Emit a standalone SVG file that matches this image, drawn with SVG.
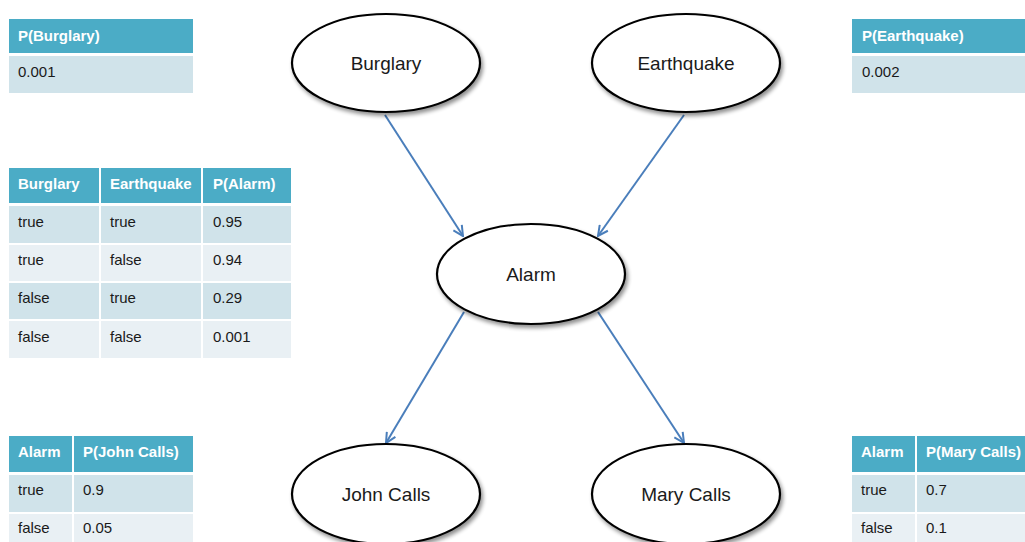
<svg xmlns="http://www.w3.org/2000/svg" width="1025" height="542" viewBox="0 0 1025 542">
  <style>
    .hd { fill: #4bacc6; }
    .r1 { fill: #d0e3ea; }
    .r2 { fill: #e9f0f4; }
    .ht { font-family: "Liberation Sans", Arial, sans-serif; font-size: 15px; font-weight: bold; fill: #ffffff; }
    .bt { font-family: "Liberation Sans", Arial, sans-serif; font-size: 15px; fill: #1a1a1a; }
    .node { fill: #ffffff; stroke: #000000; stroke-width: 2.2; filter: url(#shadow); }
    .lbl { font-family: "Liberation Sans", Arial, sans-serif; font-size: 19px; fill: #1a1a1a; text-anchor: middle; }
    .edge { stroke: #4a7ebb; stroke-width: 2; fill: none; marker-end: url(#arrow); }
  </style>
  <defs>
    <filter id="shadow" x="-20%" y="-20%" width="140%" height="150%">
      <feGaussianBlur in="SourceAlpha" stdDeviation="2"/>
      <feOffset dx="2" dy="3" result="b"/>
      <feComponentTransfer><feFuncA type="linear" slope="0.45"/></feComponentTransfer>
      <feMerge><feMergeNode/><feMergeNode in="SourceGraphic"/></feMerge>
    </filter>
    <marker id="arrow" viewBox="0 0 12 12" refX="11" refY="6" markerWidth="12" markerHeight="12" markerUnits="userSpaceOnUse" orient="auto">
      <path d="M1,1 L11,6 L1,11" fill="none" stroke="#4a7ebb" stroke-width="2"/>
    </marker>
  </defs>
  <rect width="1025" height="542" fill="#ffffff"/>

  <!-- P(Burglary) table -->
  <g id="table-burglary">
    <rect class="hd" x="9" y="19" width="184" height="34"/>
    <rect class="r1" x="9" y="56" width="184" height="37"/>
    <text class="ht" x="18" y="41">P(Burglary)</text>
    <text class="bt" x="18" y="77">0.001</text>
  </g>

  <!-- P(Earthquake) table -->
  <g id="table-earthquake">
    <rect class="hd" x="852" y="19" width="173" height="34"/>
    <rect class="r1" x="852" y="56" width="173" height="37"/>
    <text class="ht" x="862" y="41">P(Earthquake)</text>
    <text class="bt" x="862" y="77">0.002</text>
  </g>

  <!-- P(Alarm) table -->
  <g id="table-alarm">
    <rect class="hd" x="9" y="168" width="90" height="35"/>
    <rect class="hd" x="101" y="168" width="100" height="35"/>
    <rect class="hd" x="203" y="168" width="88" height="35"/>
    <rect class="r1" x="9" y="206" width="90" height="37"/>
    <rect class="r1" x="101" y="206" width="100" height="37"/>
    <rect class="r1" x="203" y="206" width="88" height="37"/>
    <rect class="r2" x="9" y="245" width="90" height="36"/>
    <rect class="r2" x="101" y="245" width="100" height="36"/>
    <rect class="r2" x="203" y="245" width="88" height="36"/>
    <rect class="r1" x="9" y="283" width="90" height="36"/>
    <rect class="r1" x="101" y="283" width="100" height="36"/>
    <rect class="r1" x="203" y="283" width="88" height="36"/>
    <rect class="r2" x="9" y="321" width="90" height="37"/>
    <rect class="r2" x="101" y="321" width="100" height="37"/>
    <rect class="r2" x="203" y="321" width="88" height="37"/>
    <text class="ht" x="18" y="189">Burglary</text>
    <text class="ht" x="110" y="189">Earthquake</text>
    <text class="ht" x="213" y="189">P(Alarm)</text>
    <text class="bt" x="18" y="227">true</text>
    <text class="bt" x="110" y="227">true</text>
    <text class="bt" x="213" y="227">0.95</text>
    <text class="bt" x="18" y="265">true</text>
    <text class="bt" x="110" y="265">false</text>
    <text class="bt" x="213" y="265">0.94</text>
    <text class="bt" x="18" y="303">false</text>
    <text class="bt" x="110" y="303">true</text>
    <text class="bt" x="213" y="303">0.29</text>
    <text class="bt" x="18" y="342">false</text>
    <text class="bt" x="110" y="342">false</text>
    <text class="bt" x="213" y="342">0.001</text>
  </g>

  <!-- P(John Calls) table -->
  <g id="table-john">
    <rect class="hd" x="9" y="436" width="63" height="36"/>
    <rect class="hd" x="74" y="436" width="119" height="36"/>
    <rect class="r1" x="9" y="475" width="63" height="37"/>
    <rect class="r1" x="74" y="475" width="119" height="37"/>
    <rect class="r2" x="9" y="514" width="63" height="28"/>
    <rect class="r2" x="74" y="514" width="119" height="28"/>
    <text class="ht" x="18" y="457">Alarm</text>
    <text class="ht" x="83" y="457">P(John Calls)</text>
    <text class="bt" x="18" y="495">true</text>
    <text class="bt" x="83" y="495">0.9</text>
    <text class="bt" x="18" y="533">false</text>
    <text class="bt" x="83" y="533">0.05</text>
  </g>

  <!-- P(Mary Calls) table -->
  <g id="table-mary">
    <rect class="hd" x="852" y="436" width="63" height="36"/>
    <rect class="hd" x="917" y="436" width="108" height="36"/>
    <rect class="r1" x="852" y="475" width="63" height="37"/>
    <rect class="r1" x="917" y="475" width="108" height="37"/>
    <rect class="r2" x="852" y="514" width="63" height="28"/>
    <rect class="r2" x="917" y="514" width="108" height="28"/>
    <text class="ht" x="861" y="457">Alarm</text>
    <text class="ht" x="926" y="457">P(Mary Calls)</text>
    <text class="bt" x="861" y="495">true</text>
    <text class="bt" x="926" y="495">0.7</text>
    <text class="bt" x="861" y="533">false</text>
    <text class="bt" x="926" y="533">0.1</text>
  </g>

  <!-- connectors -->
  <g id="edges">
    <line class="edge" x1="385" y1="115" x2="463" y2="236"/>
    <line class="edge" x1="684" y1="115" x2="598" y2="236"/>
    <line class="edge" x1="464" y1="312" x2="386" y2="443"/>
    <line class="edge" x1="598" y1="312" x2="684" y2="443"/>
  </g>

  <!-- nodes -->
  <g id="node-burglary">
    <ellipse class="node" cx="386" cy="63" rx="94" ry="49"/>
    <text class="lbl" x="386" y="70">Burglary</text>
  </g>
  <g id="node-earthquake">
    <ellipse class="node" cx="686" cy="63" rx="94" ry="49"/>
    <text class="lbl" x="686" y="70">Earthquake</text>
  </g>
  <g id="node-alarm">
    <ellipse class="node" cx="531" cy="274" rx="94" ry="50"/>
    <text class="lbl" x="531" y="281">Alarm</text>
  </g>
  <g id="node-john">
    <ellipse class="node" cx="386" cy="494" rx="94" ry="50"/>
    <text class="lbl" x="386" y="501">John Calls</text>
  </g>
  <g id="node-mary">
    <ellipse class="node" cx="686" cy="494" rx="94" ry="50"/>
    <text class="lbl" x="686" y="501">Mary Calls</text>
  </g>
</svg>
